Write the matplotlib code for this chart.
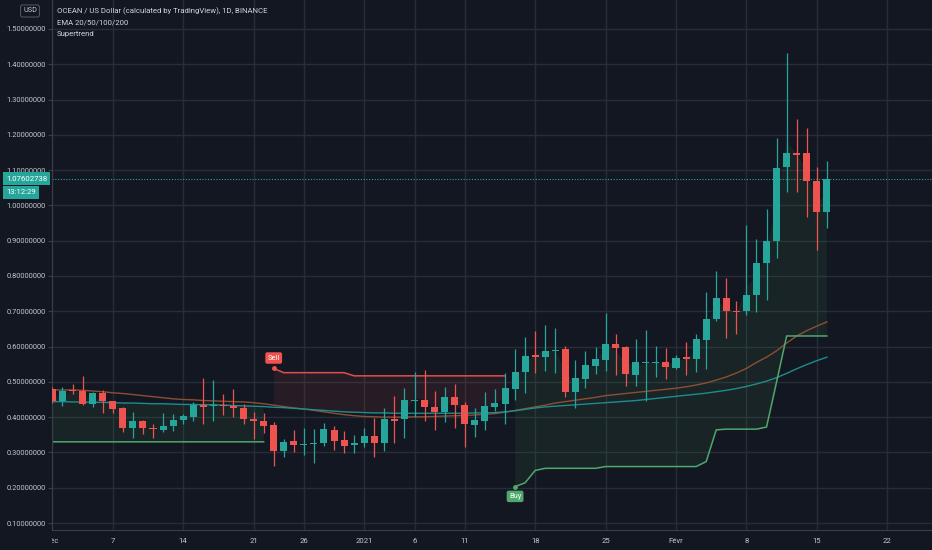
import numpy as np
import pandas as pd
import matplotlib
matplotlib.use("Agg")
import matplotlib.pyplot as plt
import matplotlib.dates as mdates
import matplotlib.transforms as mtransforms

plt.rcParams['font.family'] = ['Roboto', 'DejaVu Sans']

# daily candles, OCEAN/USD, 1 Dec 2020 -> 16 Feb 2021
dates = pd.date_range('2020-12-01', '2021-02-16', freq='D')

opens = [0.480, 0.447, 0.478, 0.474, 0.437, 0.467, 0.445, 0.427, 0.369, 0.389,
         0.370, 0.364, 0.375, 0.392, 0.401, 0.434, 0.431, 0.434, 0.432, 0.427,
         0.395, 0.389, 0.378, 0.305, 0.332, 0.320, 0.323, 0.326, 0.364, 0.335,
         0.320, 0.326, 0.347, 0.328, 0.395, 0.394, 0.446, 0.449, 0.430, 0.415,
         0.458, 0.434, 0.379, 0.390, 0.430, 0.437, 0.480, 0.529, 0.577, 0.571,
         0.586, 0.593, 0.472, 0.508, 0.546, 0.563, 0.606, 0.598, 0.519, 0.554,
         0.554, 0.557, 0.540, 0.570, 0.565, 0.618, 0.678, 0.738, 0.701, 0.702,
         0.746, 0.836, 0.899, 1.110, 1.148, 1.148, 1.069, 0.981]
highs = [0.485, 0.486, 0.494, 0.517, 0.470, 0.477, 0.447, 0.430, 0.414, 0.392,
         0.380, 0.413, 0.408, 0.408, 0.444, 0.510, 0.505, 0.466, 0.480, 0.437,
         0.415, 0.413, 0.387, 0.337, 0.363, 0.368, 0.365, 0.383, 0.375, 0.361,
         0.349, 0.368, 0.397, 0.427, 0.460, 0.483, 0.527, 0.533, 0.474, 0.486,
         0.493, 0.442, 0.427, 0.472, 0.480, 0.524, 0.592, 0.626, 0.644, 0.661,
         0.652, 0.602, 0.562, 0.587, 0.598, 0.696, 0.635, 0.602, 0.622, 0.647,
         0.602, 0.597, 0.575, 0.614, 0.636, 0.754, 0.815, 0.794, 0.729, 0.944,
         0.905, 0.990, 1.190, 1.431, 1.245, 1.218, 1.110, 1.126]
lows = [0.440, 0.432, 0.465, 0.434, 0.430, 0.412, 0.411, 0.359, 0.340, 0.353,
        0.340, 0.358, 0.361, 0.380, 0.389, 0.381, 0.389, 0.406, 0.401, 0.381,
        0.337, 0.355, 0.262, 0.286, 0.300, 0.293, 0.269, 0.318, 0.307, 0.299,
        0.298, 0.316, 0.288, 0.305, 0.326, 0.340, 0.401, 0.390, 0.364, 0.387,
        0.368, 0.316, 0.343, 0.364, 0.417, 0.381, 0.449, 0.469, 0.524, 0.531,
        0.526, 0.456, 0.427, 0.482, 0.522, 0.531, 0.519, 0.488, 0.489, 0.447,
        0.515, 0.508, 0.535, 0.519, 0.527, 0.536, 0.673, 0.625, 0.636, 0.690,
        0.699, 0.732, 0.850, 1.039, 1.039, 0.968, 0.874, 0.935]
closes = [0.447, 0.475, 0.474, 0.437, 0.467, 0.445, 0.423, 0.369, 0.389, 0.370,
          0.366, 0.376, 0.392, 0.403, 0.434, 0.429, 0.434, 0.431, 0.425, 0.394,
          0.388, 0.376, 0.305, 0.330, 0.320, 0.324, 0.326, 0.365, 0.333, 0.319,
          0.326, 0.347, 0.328, 0.394, 0.390, 0.449, 0.449, 0.428, 0.415, 0.458,
          0.434, 0.380, 0.392, 0.432, 0.439, 0.483, 0.529, 0.574, 0.571, 0.586,
          0.590, 0.472, 0.510, 0.548, 0.565, 0.606, 0.597, 0.521, 0.555, 0.557,
          0.557, 0.542, 0.568, 0.565, 0.620, 0.679, 0.738, 0.702, 0.697, 0.746,
          0.836, 0.900, 1.107, 1.148, 1.143, 1.070, 0.981, 1.07602738]

# EMA lines
ema_orange = [0.477, 0.477, 0.477, 0.476, 0.474, 0.472, 0.469, 0.467, 0.464, 0.461,
              0.458, 0.455, 0.452, 0.450, 0.449, 0.447, 0.446, 0.445, 0.444, 0.443,
              0.441, 0.438, 0.434, 0.430, 0.426, 0.423, 0.419, 0.415, 0.411, 0.407,
              0.404, 0.402, 0.401, 0.400, 0.400, 0.400, 0.401, 0.401, 0.402, 0.403,
              0.404, 0.405, 0.406, 0.408, 0.410, 0.414, 0.419, 0.424, 0.429, 0.434,
              0.440, 0.444, 0.448, 0.452, 0.456, 0.461, 0.464, 0.467, 0.470, 0.473,
              0.476, 0.479, 0.482, 0.486, 0.491, 0.497, 0.505, 0.514, 0.525, 0.538,
              0.555, 0.570, 0.588, 0.610, 0.630, 0.645, 0.658, 0.670]
ema_teal = [0.444, 0.444, 0.443, 0.443, 0.442, 0.442, 0.441, 0.440, 0.440, 0.439,
            0.438, 0.438, 0.437, 0.436, 0.436, 0.435, 0.435, 0.434, 0.433, 0.432,
            0.431, 0.430, 0.428, 0.427, 0.425, 0.423, 0.421, 0.419, 0.417, 0.415,
            0.414, 0.413, 0.412, 0.412, 0.411, 0.411, 0.411, 0.411, 0.411, 0.411,
            0.411, 0.411, 0.412, 0.412, 0.413, 0.415, 0.418, 0.422, 0.426, 0.429,
            0.431, 0.433, 0.435, 0.437, 0.439, 0.441, 0.443, 0.445, 0.447, 0.450,
            0.453, 0.456, 0.459, 0.462, 0.465, 0.468, 0.472, 0.476, 0.481, 0.487,
            0.494, 0.502, 0.512, 0.524, 0.537, 0.549, 0.560, 0.570]

# Supertrend value and direction (1 = up, -1 = down)
supertrend = ([0.330] * 22 + [0.538] + [0.526] * 7 + [0.517] * 16 +
              [0.203, 0.214, 0.249] + [0.255] * 6 + [0.260] * 10 +
              [0.274, 0.364] + [0.366] * 4 + [0.372, 0.500] + [0.630] * 5)
trend = [1] * 22 + [-1] * 24 + [1] * 32

tick_dates = ['2020-12-01', '2020-12-07', '2020-12-14', '2020-12-21', '2020-12-26',
              '2021-01-01', '2021-01-06', '2021-01-11', '2021-01-18', '2021-01-25',
              '2021-02-01', '2021-02-08', '2021-02-15', '2021-02-22']
tick_labels = ['Déc', '7', '14', '21', '26', '2021', '6', '11', '18', '25',
               'Févr', '8', '15', '22']
price_ticks = [0.1, 0.2, 0.3, 0.4, 0.5, 0.6, 0.7, 0.8, 0.9, 1.0, 1.1, 1.2, 1.3, 1.4, 1.5]

bg = '#131722'
up_col = '#26a69a'
dn_col = '#ef5350'
txt = '#c3c6ce'
grid = '#282c37'

x = mdates.date2num(dates)
o, h, l, c = map(np.array, (opens, highs, lows, closes))
st = np.array(supertrend)
tr = np.array(trend)

fig = plt.figure(figsize=(9.32, 5.5), dpi=100, facecolor=bg)
ax = fig.add_axes([52 / 932, 20 / 550, 880 / 932, 530 / 550])
ax.set_facecolor(bg)

ax.set_xlim(x[0] - 0.04, x[0] + 87.45)
ax.set_ylim(0.0802, 1.582)

# grid
ax.set_xticks(mdates.date2num(pd.to_datetime(tick_dates)))
ax.set_yticks(price_ticks)
ax.grid(True, color=grid, lw=1)
ax.set_axisbelow(True)
ax.set_xticklabels([])
ax.tick_params(axis='x', length=0)
ax.set_yticklabels(['%.8f' % p for p in price_ticks])
ax.tick_params(axis='y', colors='#3a3e49', labelcolor=txt, labelsize=5.4, length=3, pad=1.5)
for s in ['top', 'right']:
    ax.spines[s].set_visible(False)
for s in ['left', 'bottom']:
    ax.spines[s].set_color('#3a3e49')

# supertrend fills
ref = np.maximum((o + h + l + c) / 4, np.array(ema_teal))
ax.fill_between(x, st, ref, where=tr == 1, color='#4caf50', alpha=0.09, lw=0, zorder=1)
ax.fill_between(x, st, ref, where=tr == -1, color='#ef5350', alpha=0.09, lw=0, zorder=1)

# EMA lines
ax.plot(x, ema_orange, color='#8c4f33', lw=1, zorder=2)
ax.plot(x, ema_teal, color='#1f8c8c', lw=1, zorder=2)

# supertrend lines
ax.plot(x, np.where(tr == 1, st, np.nan), color='#4fa86c', lw=1.1, zorder=2)
ax.plot(x, np.where(tr == -1, st, np.nan), color='#e0504a', lw=1.1, zorder=2)

# candles
cols = np.where(c >= o, up_col, dn_col)
ax.vlines(x, l, h, colors=cols, lw=0.9, zorder=3)
body_lo = np.minimum(o, c)
body_h = np.maximum(np.abs(c - o), 0.003)
ax.bar(x, body_h, bottom=body_lo, width=0.7, color=cols, lw=0, zorder=4)

# buy / sell labels
i_sell = 22
i_buy = 46
ax.plot(x[i_sell], st[i_sell], 'o', color='#ef5350', ms=2.5, zorder=5)
ax.annotate('Sell', (x[i_sell], st[i_sell]), xytext=(0, 7.5), textcoords='offset points',
            ha='center', va='center', color='white', fontsize=5.4, zorder=6,
            bbox=dict(boxstyle='round,pad=0.3,rounding_size=0.25', fc='#ef5350', ec='none'))
ax.plot(x[i_buy], st[i_buy], 'o', color='#4fa86c', ms=2.5, zorder=5)
ax.annotate('Buy', (x[i_buy], st[i_buy]), xytext=(0, -7), textcoords='offset points',
            ha='center', va='center', color='white', fontsize=5.4, zorder=6,
            bbox=dict(boxstyle='round,pad=0.3,rounding_size=0.25', fc='#4fa86c', ec='none'))

# last price line and labels
last = closes[-1]
ax.axhline(last, color=up_col, lw=0.8, ls=(0, (1, 1.5)), zorder=2)
btrans = mtransforms.blended_transform_factory(fig.transFigure, ax.transData)
ax.text(6 / 932, last, '%.8f' % last, transform=btrans, ha='left', va='center',
        color='white', fontsize=5.6, clip_on=False,
        bbox=dict(boxstyle='square,pad=0.4', fc=up_col, ec='none'))
ax.annotate('13:12:29', (6 / 932, last), xycoords=btrans, xytext=(0, -10),
            textcoords='offset points', ha='left', va='center', color='white',
            fontsize=5.6, annotation_clip=False,
            bbox=dict(boxstyle='square,pad=0.4', fc=up_col, ec='none'))

# time axis labels (clipped at the price scale, like the original)
tax = fig.add_axes([52 / 932, 0, 880 / 932, 20 / 550])
tax.set_xlim(ax.get_xlim())
tax.set_ylim(0, 1)
tax.axis('off')
for d, lab in zip(pd.to_datetime(tick_dates), tick_labels):
    tax.text(mdates.date2num(d), 0.45, lab, ha='center', va='center',
             color=txt, fontsize=5.6, clip_on=True)

# header
fig.text(30 / 932, 1 - 11 / 550, 'USD', ha='center', va='center', color=txt, fontsize=5.2,
         bbox=dict(boxstyle='round,pad=0.35,rounding_size=0.3', fc=bg, ec='#50535e', lw=0.8))
fig.text(57 / 932, 1 - 11 / 550, 'OCEAN / US Dollar (calculated by TradingView), 1D, BINANCE',
         ha='left', va='center', color='#d1d4dc', fontsize=5.6)
fig.text(57 / 932, 1 - 22.5 / 550, 'EMA 20/50/100/200', ha='left', va='center',
         color='#d1d4dc', fontsize=5.6)
fig.text(57 / 932, 1 - 34 / 550, 'Supertrend', ha='left', va='center',
         color='#d1d4dc', fontsize=5.6)

fig.savefig('out.png', dpi=100, facecolor=bg)
